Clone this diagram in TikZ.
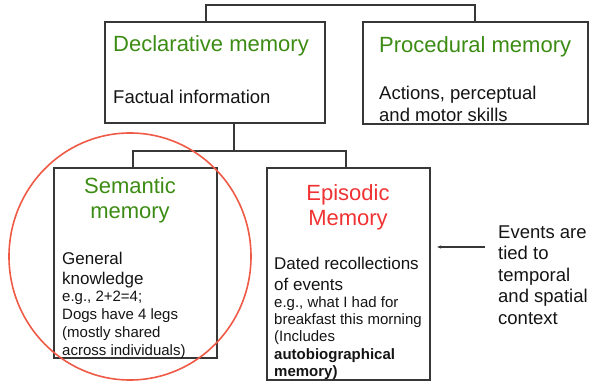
\documentclass[tikz,border=0pt]{standalone}
\usepackage{fontspec}
\setmainfont{Liberation Sans}
\usetikzlibrary{arrows.meta,calc}
\definecolor{titlegreen}{RGB}{60,140,20}
\definecolor{titlered}{RGB}{240,50,50}
\definecolor{ringred}{RGB}{238,90,70}
\definecolor{boxline}{RGB}{55,55,55}
\definecolor{bodytext}{RGB}{20,20,20}
\begin{document}
\begin{tikzpicture}[x=1pt,y=-1pt,
  box/.style={draw=boxline, line width=1.2pt, rectangle, inner sep=0pt},
  link/.style={draw=boxline, line width=1.2pt},
  titletxt/.style={inner sep=0pt, font=\fontsize{22}{25}\selectfont},
  bigtxt/.style={inner sep=0pt, align=left, anchor=west, text=bodytext, font=\fontsize{18.5}{22}\selectfont},
  midtxt/.style={inner sep=0pt, align=left, anchor=west, text=bodytext, font=\fontsize{17}{20.5}\selectfont},
  smalltxt/.style={inner sep=0pt, align=left, anchor=west, text=bodytext, font=\fontsize{15}{17.8}\selectfont}
]
\useasboundingbox (0,0) rectangle (591,382);

% boxes
\node[box, minimum width=220pt, minimum height=101pt] (dec) at (215,72.5) {};
\node[box, minimum width=225pt, minimum height=102pt] (proc) at (475.5,73) {};
\node[box, minimum width=163pt, minimum height=190pt] (sem) at (135.5,263) {};
\node[box, minimum width=163pt, minimum height=212pt] (ep) at (348.5,274) {};

% texts
\node[titletxt, text=titlegreen, anchor=west] (dectitle) at (113,46) {Declarative memory};
\node[bigtxt] (decbody) at (113,97) {Factual information};
\node[titletxt, text=titlegreen, anchor=west] (proctitle) at (379,47) {Procedural memory};
\node[bigtxt] (procbody) at (379,104) {Actions, perceptual\\and motor skills};

\node[titletxt, text=titlegreen, align=center] (semtitle) at (130,200.5) {Semantic\\memory};
\node[midtxt] (sembody) at (62,270) {General\\knowledge};
\node[smalltxt] (semex) at (62,325) {e.g., 2+2=4;\\Dogs have 4 legs\\(mostly shared\\across individuals)};

\node[titletxt, text=titlered, align=center] (eptitle) at (348,207) {Episodic\\Memory};
\node[midtxt] (epbody) at (274,274) {Dated recollections\\of events};
\node[smalltxt, font=\fontsize{15}{17.4}\selectfont] (epex) at (274,338) {e.g., what I had for\\breakfast this morning\\(Includes\\\textbf{autobiographical}\\\textbf{memory)}};

\node[bigtxt, font=\fontsize{18.5}{21.5}\selectfont] (events) at (498,275) {Events are\\tied to\\temporal\\and spatial\\context};

% connectors
\coordinate (topl) at (206,5);
\coordinate (topr) at (475,5);
\draw[link] (dec.north -| topl) -- (topl) -- (topr) -- (proc.north -| topr);

\coordinate (midjoin) at (234,151);
\coordinate (midl) at (133,151);
\coordinate (midr) at (346,151);
\draw[link] (dec.south -| midjoin) -- (midjoin);
\draw[link] (sem.north -| midl) -- (midl) -- (midr) -- (ep.north -| midr);

\coordinate (arrowtail) at (485,247);
\draw[link, line width=1.1pt, -{Latex[length=4.5pt,width=3.5pt]}] (arrowtail) -- ($(ep.east |- arrowtail)+(6,0)$);

% red ring
\draw[ringred, line width=1.6pt] (130,256.5) ellipse [x radius=121pt, y radius=123.5pt];
\end{tikzpicture}
\end{document}
